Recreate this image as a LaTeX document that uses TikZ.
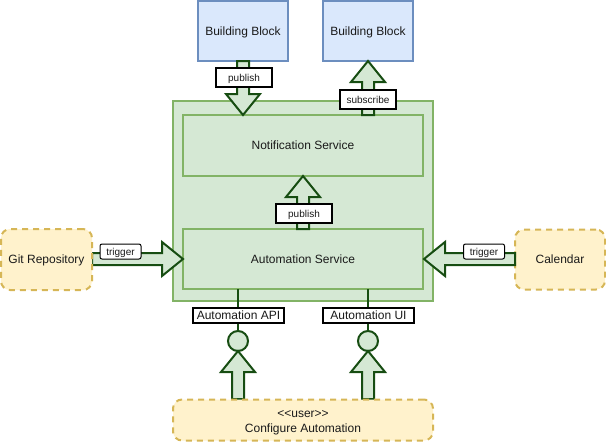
\documentclass[tikz,border=0pt]{standalone}
\usepackage{fontspec}
\setmainfont{Liberation Sans}
\usetikzlibrary{calc}
\definecolor{gfill}{HTML}{D5E8D4}
\definecolor{gline}{HTML}{82B366}
\definecolor{bfill}{HTML}{DAE8FC}
\definecolor{bline}{HTML}{6C8EBF}
\definecolor{yfill}{HTML}{FFF2CC}
\definecolor{yline}{HTML}{D6B656}
\definecolor{dark}{HTML}{174D12}
\definecolor{ink}{HTML}{1A1A1A}
\tikzset{
  boxbase/.style={rectangle,line width=2pt,inner sep=0pt,outer sep=0pt,text=ink,text depth=0pt,font=\fontsize{12}{15}\selectfont},
  blueblock/.style={boxbase,draw=bline,fill=bfill,minimum width=90pt,minimum height=60pt},
  greenbox/.style={boxbase,draw=gline,fill=gfill},
  yellowbox/.style={boxbase,draw=yline,fill=yfill,rounded corners=9pt,dash pattern=on 6pt off 5pt},
  arrowshape/.style={draw=dark,fill=gfill,line width=2pt,line join=miter,miter limit=10},
  smalllabel/.style={boxbase,draw=black,fill=white,minimum width=56pt,minimum height=19pt,font=\fontsize{10}{12}\selectfont},
  triggerlabel/.style={boxbase,draw=black,fill=white,line width=1pt,rounded corners=2pt,minimum width=41pt,minimum height=15pt,font=\fontsize{10}{12}\selectfont},
  apilabel/.style={boxbase,draw=black,fill=white,minimum width=91pt,minimum height=15pt},
  stemline/.style={draw=dark,line width=2pt},
  lollipop/.style={circle,draw=dark,fill=gfill,line width=2pt,minimum size=20pt,inner sep=0pt,outer sep=0pt}
}
% block arrow from #1 to #2, with head length #3
\newcommand{\blockarrow}[3]{%
  \coordinate (hb) at ($(#2)!#3!(#1)$);
  \draw[arrowshape] ($(#1)!6pt!90:(#2)$) -- ($(hb)!6pt!-90:(#1)$) -- ($(hb)!17pt!-90:(#1)$) -- (#2)
    -- ($(hb)!17pt!90:(#1)$) -- ($(hb)!6pt!90:(#1)$) -- ($(#1)!6pt!-90:(#2)$) -- cycle;
}
\begin{document}
\begin{tikzpicture}[x=1pt,y=-1pt]
\useasboundingbox (0,0) rectangle (606,442);
\node[greenbox,minimum width=260pt,minimum height=200pt] (outer) at (303,201) {};
\node[greenbox,minimum width=240pt,minimum height=61pt] (notif) at (303,145.5) {Notification Service};
\node[greenbox,minimum width=240pt,minimum height=60pt] (auto) at (303,259) {Automation Service};
\node[blueblock] (bb1) at (243,31) {Building Block};
\node[blueblock] (bb2) at (368,31) {Building Block};
\node[yellowbox,minimum width=90pt,minimum height=60pt] (cal) at (560,259.5) {Calendar};
% block arrows
\coordinate (pubtip) at (bb1.south |- notif.north);
\coordinate (subbase) at (bb2.south |- notif.north);
\coordinate (gitout) at (92,259);
\coordinate (autoW) at (183,259);
\coordinate (autoE) at (424,259);
\coordinate (calW) at (515,259);
\blockarrow{bb1.south}{pubtip}{21pt}
\blockarrow{subbase}{bb2.south}{21pt}
\blockarrow{auto.north}{notif.south}{21pt}
\blockarrow{gitout}{autoW}{21pt}
\blockarrow{calW}{autoE}{21pt}
\coordinate (apix) at (238,289);
\coordinate (uix) at (368,289);
\coordinate (cfgA) at (238,399);
\coordinate (cfgU) at (368,399);
\node[lollipop] (c1) at (238,341) {};
\node[lollipop] (c2) at (368,341) {};
\draw[stemline] (apix) -- (c1.north);
\draw[stemline] (uix) -- (c2.north);
\blockarrow{cfgA}{c1.south}{21pt}
\blockarrow{cfgU}{c2.south}{21pt}
\node[yellowbox,minimum width=91pt,minimum height=61pt] (git) at (46.5,259.5) {Git Repository};
\node[yellowbox,minimum width=260pt,minimum height=41pt,
  label={[align=center,text=ink,font=\fontsize{12}{15}\selectfont,inner sep=0pt,yshift=-3pt]center:\mbox{<{}<}user\mbox{>{}>}\\Configure Automation}] (cfg) at (303,420) {};
% labels
\node[smalllabel] (l1) at (244,77.5) {publish};
\node[smalllabel] (l2) at (368,99.5) {subscribe};
\node[smalllabel] (l3) at (304,213.5) {publish};
\node[triggerlabel] (l4) at (120.5,251.5) {trigger};
\node[triggerlabel] (l5) at (484,251.5) {trigger};
\node[apilabel] (l6) at (238.5,315.5) {Automation API};
\node[apilabel] (l7) at (368.5,315.5) {Automation UI};
\end{tikzpicture}
\end{document}
